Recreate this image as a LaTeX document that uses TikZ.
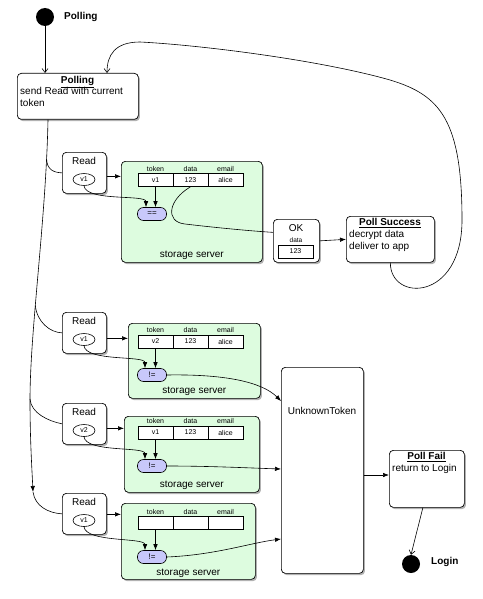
\documentclass[tikz,border=0pt]{standalone}
\usepackage{fontspec}
\setmainfont{Liberation Sans}
\usetikzlibrary{shadows,arrows.meta,shapes.geometric,calc}
\definecolor{srvgreen}{RGB}{221,252,223}
\definecolor{opfill}{RGB}{200,200,250}
\tikzset{
 stbox/.style={draw, line width=0.7pt, rounded corners=4pt, fill=white, anchor=north west, inner sep=0pt,
   drop shadow={shadow xshift=1.6pt, shadow yshift=-1.8pt, fill=black!55, opacity=0.55}},
 srvbox/.style={stbox, fill=srvgreen},
 txt/.style={inner sep=0pt, font=\fontsize{10}{12}\selectfont},
 btxt/.style={inner sep=0pt, font=\fontsize{10}{12}\selectfont\bfseries},
 smalltxt/.style={inner sep=0pt, font=\fontsize{7}{8}\selectfont},
 tcell/.style={draw, line width=0.6pt, fill=white, minimum width=35pt, minimum height=13pt, inner sep=0pt, font=\fontsize{7}{8}\selectfont},
 vell/.style={draw, ellipse, line width=0.6pt, fill=white, minimum width=22pt, minimum height=12pt, inner sep=0pt, font=\fontsize{7}{8}\selectfont},
 cmp/.style={draw, line width=0.6pt, fill=opfill, rounded corners=6pt, minimum width=29pt, minimum height=13pt, inner sep=0pt, font=\fontsize{8}{9}\selectfont},
 blackdot/.style={circle, fill=black, minimum size=18pt, inner sep=0pt},
 conn/.style={line width=0.6pt},
 arr/.style={conn, -{Latex[length=6pt,width=4.5pt]}},
 oarr/.style={conn, -{Straight Barb[length=4pt,width=6pt]}},
}
\newcommand\mkrow[5]{%
  \node[tcell] (#1t) at (155.5,#2) {#3};
  \node[tcell] (#1d) at (190.5,#2) {#4};
  \node[tcell] (#1e) at (225.5,#2) {#5};
  \node[smalltxt] (#1th) at (155.5,{#2-11.5}) {token};
  \node[smalltxt] (#1dh) at (190.5,{#2-11.5}) {data};
  \node[smalltxt] (#1eh) at (225.5,{#2-11.5}) {email};
}
\newcommand\mkread[3]{%
  \node[stbox, minimum width=44pt, minimum height=41pt] (#1) at (62,#2) {};
  \node[txt, anchor=base] (#1R) at (84,{#2+12}) {Read};
  \node[vell] (#1V) at (84,{#2+27.5}) {#3};
}
\begin{document}
\begin{tikzpicture}[x=1pt,y=-1pt]
\useasboundingbox (0,0) rectangle (482,599);

% start
\node[blackdot] (start) at (45,17) {};
\node[btxt, anchor=west] (startlbl) at (64,17) {Polling};

% polling state
\node[stbox, minimum width=121pt, minimum height=46pt] (poll) at (17,73) {};
\node[txt, anchor=base] (pollT) at (77.5,83.5) {\textbf{\underline{Polling}}};
\node[txt, anchor=base west] (pollB1) at (20,94.6) {send Read with current};
\node[txt, anchor=base west] (pollB2) at (20,106.6) {token};
\draw[oarr] (start) -- (start |- poll.north);

% read boxes
\mkread{r1}{152}{v1}
\mkread{r2}{312}{v1}
\mkread{r3}{403}{v2}
\mkread{r4}{493}{v1}

% servers
\node[srvbox, minimum width=141pt, minimum height=101pt] (s1) at (121,161) {};
\mkrow{sA}{180}{v1}{123}{alice}
\node[cmp] (eq1) at (152,214) {==};
\node[txt, anchor=base] (s1lbl) at ($(s1.south)+(0,-5.5)$) {storage server};

\node[srvbox, minimum width=132pt, minimum height=75pt] (s2) at (128,323) {};
\mkrow{sB}{341.5}{v2}{123}{alice}
\node[cmp] (ne1) at (152,375) {!=};
\node[txt, anchor=base] (s2lbl) at ($(s2.south)+(0,-5.5)$) {storage server};

\node[srvbox, minimum width=135pt, minimum height=76pt] (s3) at (124,416) {};
\mkrow{sC}{432.5}{v1}{123}{alice}
\node[cmp] (ne2) at (152,466) {!=};
\node[txt, anchor=base] (s3lbl) at ($(s3.south)+(0,-5.5)$) {storage server};

\node[srvbox, minimum width=134pt, minimum height=76pt] (s4) at (121,503) {};
\mkrow{sD}{523}{}{}{}
\node[cmp] (ne3) at (152,557) {!=};
\node[txt, anchor=base] (s4lbl) at ($(s4.south)+(0,-4.5)$) {storage server};

% read -> server
\coordinate (r1o) at ($(r1.east)+(0,3.5)$);
\coordinate (r2o) at ($(r2.east)+(0,5.5)$);
\coordinate (r3o) at ($(r3.east)+(0,4.5)$);
\coordinate (r4o) at ($(r4.east)+(0,0.5)$);
\draw[arr] (r1o) -- (r1o -| s1.west);
\draw[arr] (r2o) -- (r2o -| s2.west);
\draw[arr] (r3o) -- (r3o -| s3.west);
\draw[arr] (r4o) -- (r4o -| s4.west);

% token comparisons
\draw[arr] (sAt.south) -- (sAt.south |- eq1.north);
\draw[arr] (sBt.south) -- (sBt.south |- ne1.north);
\draw[arr] (sCt.south) -- (sCt.south |- ne2.north);
\draw[arr] (sDt.south) -- (sDt.south |- ne3.north);
\draw[arr] (r1V.south) .. controls +(2,16) and +(0,-13) .. ($(eq1.north)+(-6,0)$);
\draw[arr] (r2V.south) .. controls +(2,16) and +(0,-13) .. ($(ne1.north)+(-7,0)$);
\draw[arr] (r3V.south) .. controls +(2,16) and +(0,-13) .. ($(ne2.north)+(-7,0)$);
\draw[arr] (r4V.south) .. controls +(2,16) and +(0,-13) .. ($(ne3.north)+(-7,0)$);

% OK and success
\node[stbox, minimum width=46pt, minimum height=43pt] (ok) at (273,219) {};
\node[txt, anchor=base] (okT) at (296,231.6) {OK};
\node[inner sep=0pt, font=\fontsize{6.5}{7}\selectfont] (okD) at (296,240) {data};
\node[tcell] (okV) at (295.5,251.5) {123};
\draw[conn] (sAd.south) .. controls (168,200) and (165,222) .. (185,224) .. controls (210,227) and (250,231) .. ($(ok.west)+(0,-8.5)$);

\node[stbox, minimum width=88pt, minimum height=46pt] (succ) at (346,216) {};
\node[txt, anchor=base] (succT) at (390,225.3) {\textbf{\underline{Poll Success}}};
\node[txt, anchor=base west] (succL1) at (349,237.6) {decrypt data};
\node[txt, anchor=base west] (succL2) at (349,249.3) {deliver to app};
\draw[arr] (ok.east) -- (succ.west);

% loop back
\coordinate (pollIn) at ($(poll.north west)+(90,0)$);
\draw[oarr] (succ.south) .. controls (390,302) and (462,302) .. (462,220)
  .. controls (462,120) and (440,95) .. (390,80)
  .. controls (320,60) and (200,45) .. (140,42)
  .. controls (115,42) and (107,55) .. (pollIn);

% trunk
\coordinate (tr0) at ($(poll.south west)+(31,0)$);
\draw[arr] (tr0) .. controls (46,220) and (30,330) .. (30,400) .. controls (30,440) and (32,470) .. (33,492) coordinate (tr4);
\coordinate (b1) at (46.6,159);
\coordinate (b2) at (35.3,305.5);
\coordinate (b3) at (30,399);
\draw[conn] (b1) .. controls (47,170) and (54,172.5) .. (r1.west);
\draw[conn] (b2) .. controls (37,322) and (50,332.5) .. (r2.west);
\draw[conn] (b3) .. controls (31,413) and (48,421) .. (r3.west);
\draw[conn] (tr4) .. controls (35,506) and (48,513) .. (r4.west);

% unknown token
\node[stbox, minimum width=82pt, minimum height=206pt] (unk) at (281,367) {};
\node[txt] (unkT) at (322,411) {UnknownToken};
\coordinate (u1) at ($(unk.north west)+(0,34)$);
\coordinate (u2) at ($(unk.north west)+(0,102)$);
\coordinate (u3) at ($(unk.north west)+(0,172)$);
\draw[arr] (ne1.east) .. controls (225,374) and (262,382) .. (u1);
\draw[arr] (ne2.east) .. controls (210,466) and (250,468) .. (u2);
\draw[arr] (ne3.east) .. controls (215,555) and (250,543) .. (u3);

% poll fail
\node[stbox, minimum width=75pt, minimum height=57pt] (fail) at (389,450) {};
\node[txt, anchor=base] (failT) at (426.5,459.3) {\textbf{\underline{Poll Fail}}};
\node[txt, anchor=base west] (failL) at (392,471.3) {return to Login};
\coordinate (uf) at ($(unk.north east)+(0,108)$);
\draw[arr] (uf) -- (uf -| fail.west);

% end
\node[blackdot] (endc) at (411,564) {};
\node[btxt, anchor=west] (endlbl) at (431,562) {Login};
\draw[oarr] ($(fail.south)+(-4,0)$) -- (endc.north);
\end{tikzpicture}
\end{document}
